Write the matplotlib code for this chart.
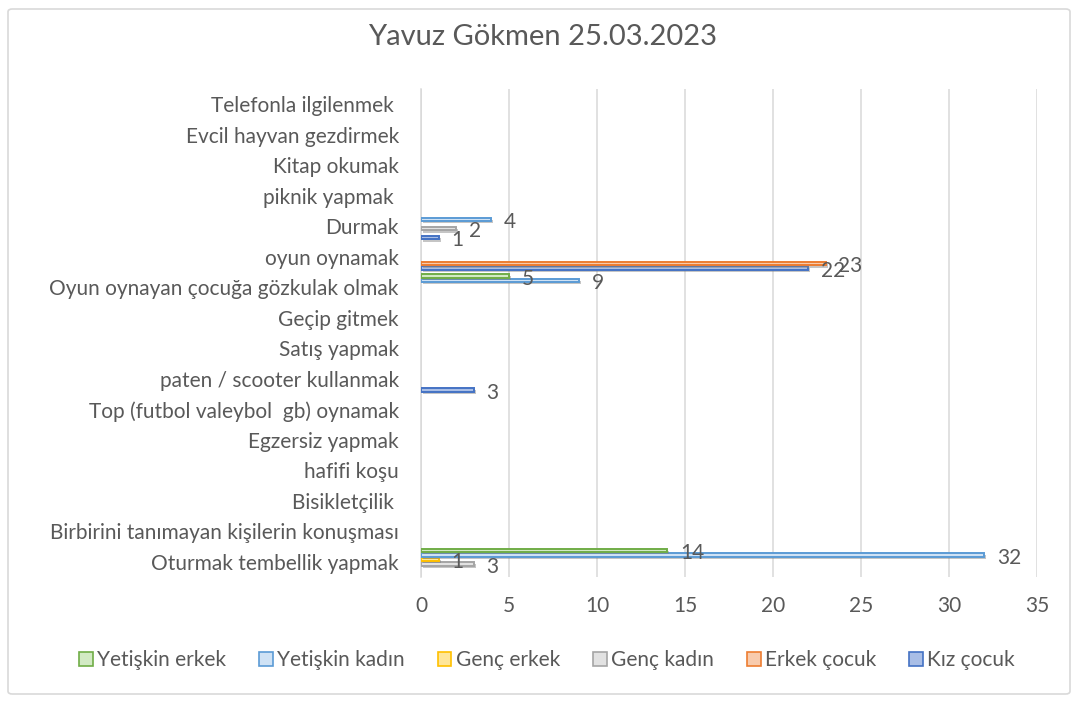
import numpy as np
import matplotlib.pyplot as plt
import matplotlib.patheffects as pe
from matplotlib.patches import FancyBboxPatch, Patch

plt.rcParams['font.family'] = ['Lato', 'DejaVu Sans']

categories = [
    'Oturmak tembellik yapmak',
    'Birbirini tanımayan kişilerin konuşması',
    'Bisikletçilik ',
    'hafifi koşu',
    'Egzersiz yapmak',
    'Top (futbol valeybol  gb) oynamak',
    'paten / scooter kullanmak',
    'Satış yapmak',
    'Geçip gitmek',
    'Oyun oynayan çocuğa gözkulak olmak',
    'oyun oynamak',
    'Durmak',
    'piknik yapmak ',
    'Kitap okumak',
    'Evcil hayvan gezdirmek',
    'Telefonla ilgilenmek ',
]

# series values, bottom category first (0 = empty cell)
kiz_cocuk      = [0, 0, 0, 0, 0, 0, 3, 0, 0, 0, 22, 1, 0, 0, 0, 0]
erkek_cocuk    = [0, 0, 0, 0, 0, 0, 0, 0, 0, 0, 23, 0, 0, 0, 0, 0]
genc_kadin     = [3, 0, 0, 0, 0, 0, 0, 0, 0, 0, 0, 2, 0, 0, 0, 0]
genc_erkek     = [1, 0, 0, 0, 0, 0, 0, 0, 0, 0, 0, 0, 0, 0, 0, 0]
yetiskin_kadin = [32, 0, 0, 0, 0, 0, 0, 0, 0, 9, 0, 4, 0, 0, 0, 0]
yetiskin_erkek = [14, 0, 0, 0, 0, 0, 0, 0, 0, 5, 0, 0, 0, 0, 0, 0]

series = [
    ('Kız çocuk', kiz_cocuk, '#4472C4', '#A9BEE6'),
    ('Erkek çocuk', erkek_cocuk, '#ED7D31', '#F8CBAD'),
    ('Genç kadın', genc_kadin, '#A5A5A5', '#E2E2E2'),
    ('Genç erkek', genc_erkek, '#FFC000', '#FFE699'),
    ('Yetişkin kadın', yetiskin_kadin, '#5B9BD5', '#CFE2F5'),
    ('Yetişkin erkek', yetiskin_erkek, '#70AD47', '#D2EAC4'),
]

fig = plt.figure(figsize=(10.78, 7.01), dpi=100)
ax = fig.add_axes([421 / 1078, 1 - 577 / 701, (1037 - 421) / 1078, (577 - 89) / 701])

# outer chart border
fig.patches.append(FancyBboxPatch((8 / 1078, 7 / 701), 1062 / 1078, 685 / 701,
                                  boxstyle='round,pad=0,rounding_size=0.004',
                                  transform=fig.transFigure, fill=False,
                                  edgecolor='#D9D9D9', linewidth=1.2))

y = np.arange(len(categories))
h = 0.148
shadow = [pe.SimplePatchShadow(offset=(1.5, -1.5), shadow_rgbFace='#7F7F7F', alpha=0.45), pe.Normal()]
handles = []
for k, (name, vals, edge, face) in enumerate(series):
    pos = y + (k - 2.5) * h
    bars = ax.barh(pos, vals, height=h * 0.85, color=face, edgecolor=edge,
                   linewidth=1.4, zorder=3, label=name)
    for b, v in zip(bars, vals):
        b.set_path_effects(shadow)
        if v == 0:
            b.set_visible(False)
    for p, v in zip(pos, vals):
        if v:
            ax.annotate(str(v), (v, p), xytext=(9, -2), textcoords='offset points',
                        ha='left', va='center', fontsize=15, color='#595959', zorder=4)
    handles.append(Patch(facecolor=face, edgecolor=edge, linewidth=1.2, label=name))

ax.set_xlim(0, 35)
ax.set_xticks(range(0, 36, 5))
ax.set_ylim(-0.5, len(categories) - 0.5)
ax.set_yticks(y)
ax.set_yticklabels(categories)
ax.tick_params(axis='both', length=0, labelsize=15, labelcolor='#595959')
ax.tick_params(axis='x', pad=14)
ax.tick_params(axis='y', pad=16)
ax.grid(axis='x', color='#D9D9D9', linewidth=1.1, zorder=0)
for s in ['top', 'right', 'bottom']:
    ax.spines[s].set_visible(False)
ax.spines['left'].set_color('#D9D9D9')
ax.spines['left'].set_linewidth(1.1)

fig.text(543 / 1078, 1 - 37 / 701, 'Yavuz Gökmen 25.03.2023', ha='center', va='center',
         fontsize=21, color='#595959')

fig.legend(handles=handles[::-1], loc='center', bbox_to_anchor=(547 / 1078, 1 - 660 / 701),
           ncol=6, frameon=False, fontsize=15, labelcolor='#595959',
           handlelength=0.65, handleheight=0.65, handletextpad=0.2, columnspacing=1.6)

fig.savefig('out.png', dpi=100)
